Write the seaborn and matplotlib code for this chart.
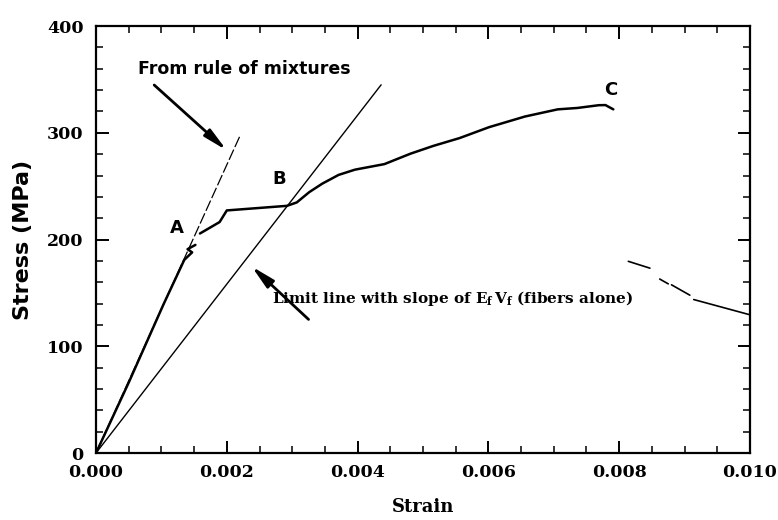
import numpy as np
import pandas as pd
import matplotlib
matplotlib.use("Agg")
import matplotlib.pyplot as plt
import seaborn as sns
from matplotlib.ticker import MultipleLocator, FormatStrFormatter

# ---------------- data ----------------
# measured stress-strain curve, split into pieces (gaps in the trace)
curve_strain_1 = [0.0, 0.00050, 0.00103, 0.00135, 0.00147, 0.00140, 0.00152]
curve_stress_1 = [0.0, 66.0, 139.0, 181.0, 188.0, 191.0, 195.0]

curve_strain_2 = [0.00159, 0.00189, 0.00200, 0.00292, 0.00307, 0.00326, 0.00346,
                  0.00371, 0.00396, 0.00441, 0.00481, 0.00516, 0.00556, 0.00601,
                  0.00656, 0.00706, 0.00736, 0.00769, 0.00779, 0.00791]
curve_stress_2 = [205.7, 216.4, 227.3, 231.6, 234.8, 244.4, 252.4,
                  260.6, 265.5, 270.7, 280.5, 287.8, 295.1, 305.3,
                  315.3, 322.0, 323.3, 325.9, 326.0, 322.0]

# unloading tail (broken trace)
tail_seg = [1, 1, 2, 2, 3, 3, 4, 4]
tail_strain = [0.00814, 0.00847, 0.00862, 0.00875, 0.00880, 0.00908, 0.00914, 0.01000]
tail_stress = [179.6, 173.2, 163.0, 158.5, 157.6, 147.9, 143.8, 129.5]

# rule-of-mixtures line and fibre-alone limit line
rom_strain = [0.0, 0.00220]
rom_stress = [0.0, 297.0]
limit_strain = [0.0, 0.00436]
limit_stress = [0.0, 345.0]

x_ticks = [0.000, 0.002, 0.004, 0.006, 0.008, 0.010]
y_ticks = [0, 100, 200, 300, 400]

# ---------------- figure ----------------
sns.set_theme(style="ticks")
plt.rcParams["font.family"] = ["DejaVu Serif"]
plt.rcParams["mathtext.fontset"] = "dejavuserif"
plt.rcParams["text.color"] = "black"
plt.rcParams["axes.labelcolor"] = "black"
plt.rcParams["xtick.color"] = "black"
plt.rcParams["ytick.color"] = "black"

fig = plt.figure(figsize=(7.78, 5.2), dpi=100)
ax = fig.add_axes([0.1234, 0.1288, 0.8406, 0.821])

curve_df = pd.DataFrame({
    "strain": curve_strain_1 + curve_strain_2,
    "stress": curve_stress_1 + curve_stress_2,
    "seg": [1] * len(curve_strain_1) + [2] * len(curve_strain_2),
})
sns.lineplot(data=curve_df, x="strain", y="stress", units="seg", estimator=None,
             sort=False, color="black", lw=1.8, ax=ax, legend=False)

tail_df = pd.DataFrame({"strain": tail_strain, "stress": tail_stress, "seg": tail_seg})
sns.lineplot(data=tail_df, x="strain", y="stress", units="seg", estimator=None,
             sort=False, color="black", lw=1.2, ax=ax, legend=False)

sns.lineplot(x=rom_strain, y=rom_stress, color="black", lw=0.9,
             linestyle=(0, (9, 2.2)), ax=ax, legend=False, sort=False)
sns.lineplot(x=limit_strain, y=limit_stress, color="black", lw=1.0,
             ax=ax, legend=False, sort=False)

# ---------------- annotations ----------------
ax.text(0.00064, 360, "From rule of mixtures", family="DejaVu Sans",
        fontweight="bold", fontsize=12.5, ha="left", va="center", color="black")
ax.annotate("", xy=(0.00200, 283.5), xytext=(0.00089, 344.8),
            arrowprops=dict(arrowstyle="-|>,head_length=1.0,head_width=0.2",
                            lw=2.0, color="black", mutation_scale=14,
                            shrinkA=0, shrinkB=0))

ax.text(0.00269, 144.5, r"Limit line with slope of $\mathbf{E_f\,V_f}$ (fibers alone)",
        fontweight="bold", fontsize=11, ha="left", va="center", color="black")
ax.annotate("", xy=(0.00238, 174.8), xytext=(0.00325, 125.2),
            arrowprops=dict(arrowstyle="-|>,head_length=1.0,head_width=0.22",
                            lw=2.0, color="black", mutation_scale=14,
                            shrinkA=0, shrinkB=0))

for lab, lx, ly in [("A", 0.00124, 211), ("B", 0.00280, 257), ("C", 0.00787, 340)]:
    ax.text(lx, ly, lab, family="DejaVu Sans", fontweight="bold",
            fontsize=13, ha="center", va="center", color="black")

# ---------------- axes ----------------
ax.set_xlim(0, 0.010)
ax.set_ylim(0, 400)
ax.set_xticks(x_ticks)
ax.set_yticks(y_ticks)
ax.xaxis.set_major_formatter(FormatStrFormatter("%.3f"))
ax.xaxis.set_minor_locator(MultipleLocator(0.0005))
ax.yaxis.set_minor_locator(MultipleLocator(20))
ax.tick_params(which="both", direction="in", top=True, right=True, colors="black")
ax.tick_params(which="major", length=9, width=1.4, labelsize=12.5)
ax.tick_params(axis="x", which="major", pad=8)
ax.tick_params(axis="y", which="major", pad=9)
ax.tick_params(which="minor", length=5, width=1.1)
for lbl in ax.get_xticklabels() + ax.get_yticklabels():
    lbl.set_fontweight("bold")
for sp in ax.spines.values():
    sp.set_linewidth(1.6)
    sp.set_color("black")

ax.set_xlabel("Strain", fontsize=13, fontweight="bold", labelpad=12)
ax.set_ylabel("Stress (MPa)", family="DejaVu Sans", fontsize=16,
              fontweight="bold", labelpad=10)

fig.savefig("out.png", dpi=100, facecolor="white")
